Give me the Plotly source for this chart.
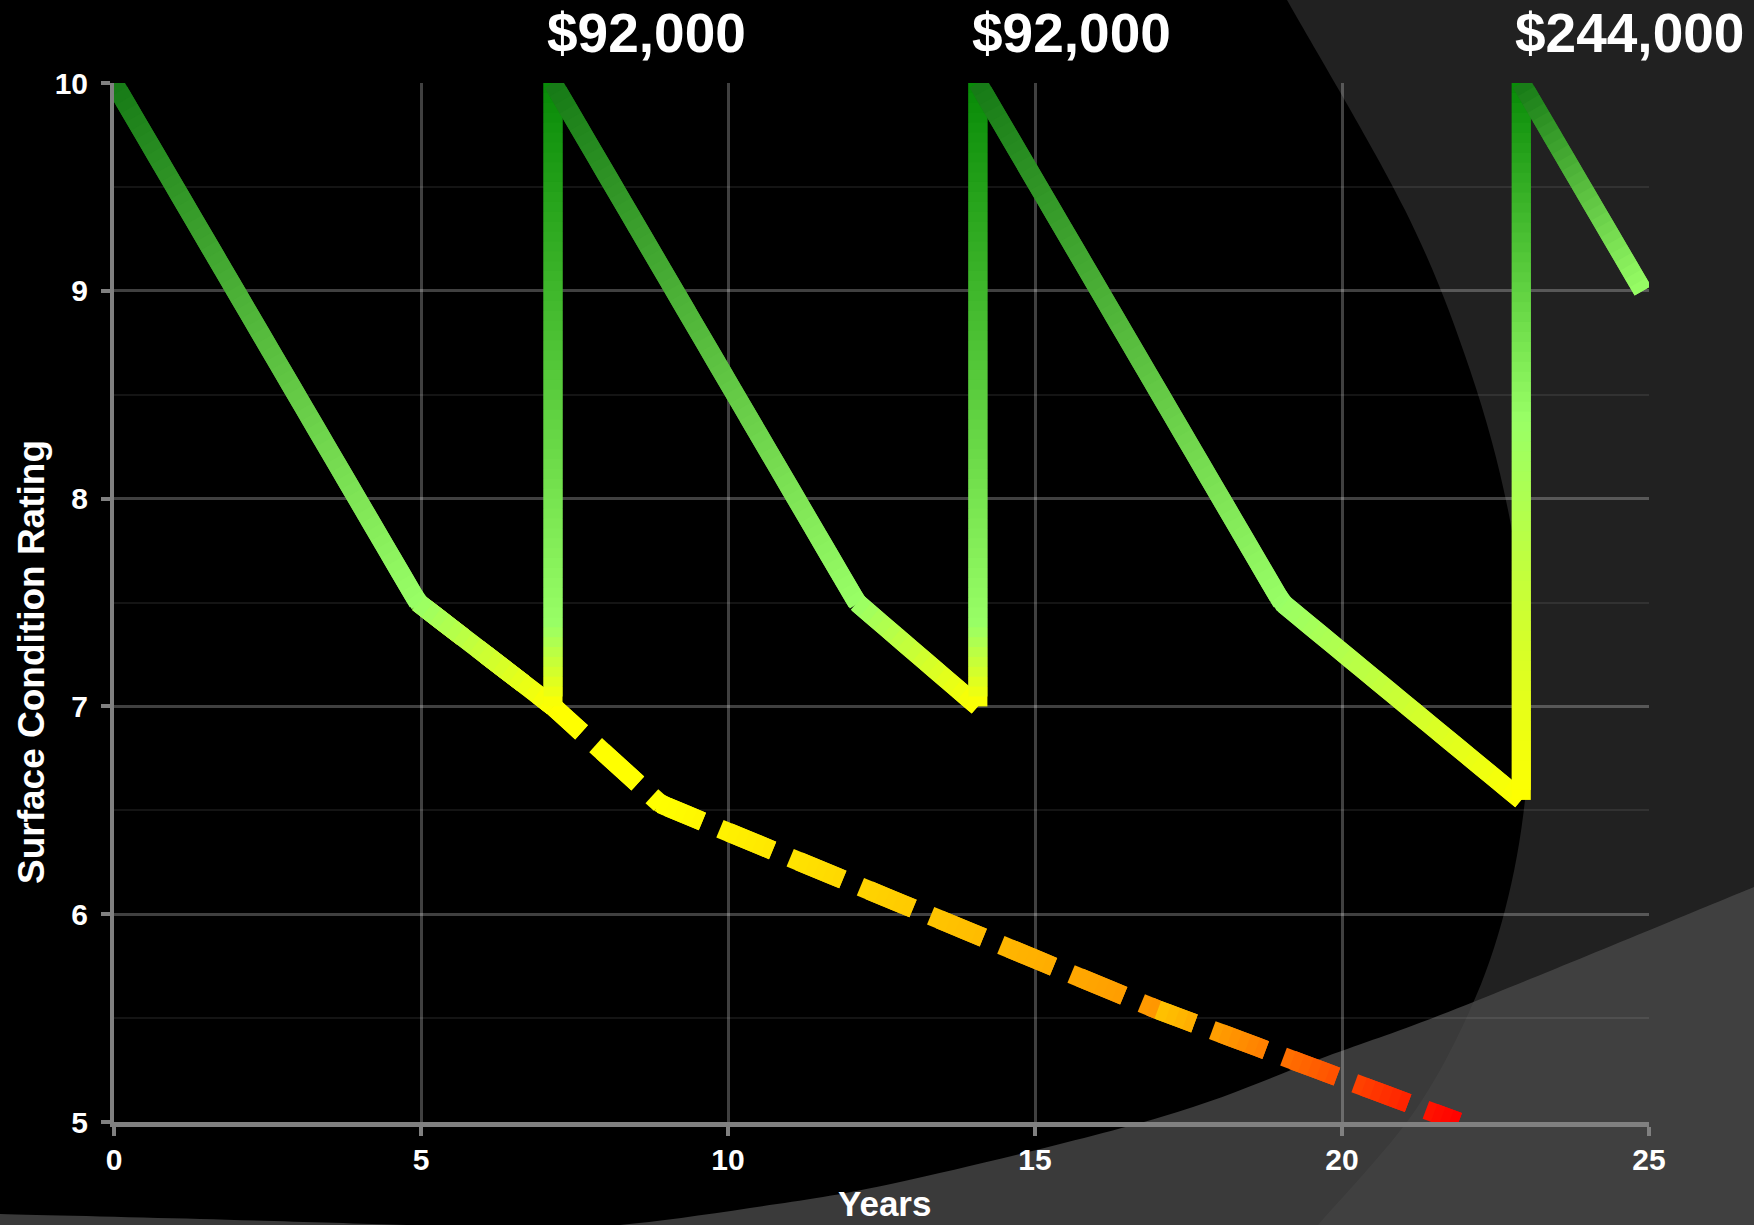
import math
import plotly.graph_objects as go

# Surface condition with periodic treatments (years, rating)
years_treated = [0, 4.95, 7.15, 7.15, 12.1, 14.07, 14.07, 19.02, 22.92, 22.92, 24.9]
rating_treated = [10, 7.5, 7.0, 10, 7.5, 7.0, 10, 7.5, 6.55, 10, 9.0]

# Condition when no treatment is applied after year 5
years_untreated = [4.95, 7.15, 8.9, 17.0, 21.9]
rating_untreated = [7.5, 7.0, 6.53, 5.54, 5.0]

# Treatments and their cost
treatment_years = [7.15, 14.07, 22.92]
treatment_costs = ["$92,000", "$92,000", "$244,000"]

x_ticks = [0, 5, 10, 15, 20, 25]
y_ticks = [5, 6, 7, 8, 9, 10]

# ---------------------------------------------------------------- layout
W, H = 1754, 1225
ML, MR, MT, MB = 114, 105, 83, 103
PW, PH = W - ML - MR, H - MT - MB
X_RANGE = [x_ticks[0], x_ticks[-1]]
Y_RANGE = [y_ticks[0], y_ticks[-1]]
SX = PW / (X_RANGE[1] - X_RANGE[0])   # pixels per year
SY = PH / (Y_RANGE[1] - Y_RANGE[0])   # pixels per rating point

LINE_W = 19
STEP = 10            # length of one colour step of a gradient stroke (px)
DASH, GAP = 57, 19   # dash pattern of the untreated curve (px)

FONT = "Liberation Sans, Arial, sans-serif"
AXIS_GREY = "#808080"

DARK = (22, 122, 22)
DEEP = (7, 138, 7)
LIGHT = (153, 255, 102)
YELLOW = (255, 255, 0)
GOLD = (255, 196, 0)
AMBER = (255, 150, 0)
RED = (255, 0, 0)

# colour ramp of every segment (position along the segment -> colour)
treated_ramps = [
    [(0, DARK), (1, LIGHT)],
    [(0, LIGHT), (1, YELLOW)],
    [(0, YELLOW), (0.13, LIGHT), (1, DEEP)],
    [(0, DARK), (1, LIGHT)],
    [(0, LIGHT), (1, YELLOW)],
    [(0, YELLOW), (0.13, LIGHT), (1, DEEP)],
    [(0, DARK), (1, LIGHT)],
    [(0, LIGHT), (1, YELLOW)],
    [(0, YELLOW), (0.53, LIGHT), (1, DEEP)],
    [(0, DARK), (1, LIGHT)],
]
untreated_ramps = [
    [(0, YELLOW), (1, YELLOW)],
    [(0, YELLOW), (1, YELLOW)],
    [(0, YELLOW), (1, AMBER)],
    [(0, GOLD), (1, RED)],
]


def mix(c0, c1, f):
    return tuple(round(a + (b - a) * f) for a, b in zip(c0, c1))


def ramp_color(stops, t):
    t = min(max(t, 0.0), 1.0)
    for (t0, c0), (t1, c1) in zip(stops, stops[1:]):
        if t <= t1:
            f = 0.0 if t1 == t0 else (t - t0) / (t1 - t0)
            return mix(c0, c1, f)
    return stops[-1][1]


def cumulative(xs, ys):
    cum = [0.0]
    for i in range(len(xs) - 1):
        cum.append(cum[-1] + math.hypot((xs[i + 1] - xs[i]) * SX,
                                        (ys[i + 1] - ys[i]) * SY))
    return cum


def locate(xs, ys, cum, s):
    i = 0
    while i < len(cum) - 2 and s > cum[i + 1]:
        i += 1
    seg_len = cum[i + 1] - cum[i]
    t = (s - cum[i]) / seg_len if seg_len else 0.0
    return xs[i] + (xs[i + 1] - xs[i]) * t, ys[i] + (ys[i + 1] - ys[i]) * t, i, t


def ramp_traces(xs, ys, cum, ramps, s0, s1):
    """Stroke the stretch [s0, s1] of a polyline with a colour gradient."""
    n = max(1, math.ceil((s1 - s0) / STEP))
    marks = [s0 + (s1 - s0) * k / n for k in range(n + 1)]
    marks += [c for c in cum[1:-1] if s0 < c < s1]
    marks = sorted(set(marks))
    pts = [locate(xs, ys, cum, s) for s in marks]
    out = []
    for j in range(len(marks) - 1):
        _, _, seg, t = locate(xs, ys, cum, (marks[j] + marks[j + 1]) / 2)
        r, g, b = ramp_color(ramps[seg], t)
        sel = pts[j:j + 3]   # overlap into the next step so joins stay closed
        out.append(go.Scatter(
            x=[p[0] for p in sel], y=[p[1] for p in sel], mode="lines",
            line=dict(color=f"rgb({r},{g},{b})", width=LINE_W),
            hoverinfo="skip", showlegend=False))
    return out


traces = []

# untreated curve: dashed gradient stroke, yellow to red
cum_u = cumulative(years_untreated, rating_untreated)
s = 0.0
while s < cum_u[-1]:
    traces += ramp_traces(years_untreated, rating_untreated, cum_u,
                          untreated_ramps, s, min(s + DASH, cum_u[-1]))
    s += DASH + GAP

# treated curve: vertical jumps are stroked separately from the decay runs
runs, cur = [], []
for i in range(len(years_treated) - 1):
    if years_treated[i] == years_treated[i + 1]:
        if cur:
            runs.append(cur)
            cur = []
        runs.append([i])
    else:
        cur.append(i)
if cur:
    runs.append(cur)

for run in runs:
    xs = years_treated[run[0]:run[-1] + 2]
    ys = rating_treated[run[0]:run[-1] + 2]
    cum = cumulative(xs, ys)
    traces += ramp_traces(xs, ys, cum, treated_ramps[run[0]:run[-1] + 1], 0.0, cum[-1])

fig = go.Figure(traces)


# ---------------------------------------------------------------- backdrop
def to_paper(px, py):
    return (px - ML) / PW, (H - MB - py) / PH


def smooth_path(curve, tail):
    p = [to_paper(*c) for c in curve]
    d = "M{:.5f},{:.5f}".format(*p[0])
    for i in range(len(p) - 1):
        p0 = p[i - 1] if i > 0 else p[i]
        p1, p2 = p[i], p[i + 1]
        p3 = p[i + 2] if i + 2 < len(p) else p[i + 1]
        c1 = (p1[0] + (p2[0] - p0[0]) / 6, p1[1] + (p2[1] - p0[1]) / 6)
        c2 = (p2[0] - (p3[0] - p1[0]) / 6, p2[1] - (p3[1] - p1[1]) / 6)
        d += " C{:.5f},{:.5f} {:.5f},{:.5f} {:.5f},{:.5f}".format(*c1, *c2, *p2)
    for t in tail:
        d += " L{:.5f},{:.5f}".format(*to_paper(*t))
    return d + " Z"


black_edge = [(1276, -20), (1287, 0), (1405, 210), (1470, 370), (1510, 520),
              (1530, 680), (1525, 800), (1505, 910), (1470, 1010), (1412, 1115),
              (1318, 1225), (1295, 1250)]
black_path = smooth_path(black_edge, [(-20, 1250), (-20, -20)])

lower_edge = [(-20, 1213), (0, 1214), (200, 1219), (440, 1226), (530, 1229),
              (620, 1225), (750, 1208), (900, 1182), (1161, 1117), (1325, 1057),
              (1466, 1005), (1754, 887), (1780, 876)]
lower_path = smooth_path(lower_edge, [(1780, 1250), (-20, 1250)])

shapes = [
    dict(type="path", xref="paper", yref="paper", path=black_path,
         fillcolor="#000000", line=dict(width=0), layer="below"),
    dict(type="path", xref="paper", yref="paper", path=lower_path,
         fillcolor="rgba(72,72,72,0.8)", line=dict(width=0), layer="below"),
]

# ---------------------------------------------------------------- labels
annotations = []
peak = max(rating_treated)
for yr, cost in zip(treatment_years, treatment_costs):
    annotations.append(dict(
        x=yr, y=peak, xref="x", yref="y", text=cost, showarrow=False,
        xanchor="left", yanchor="middle", xshift=-8, yshift=50,
        font=dict(family=FONT, size=55, color="white", weight="bold")))

annotations.append(dict(
    x=to_paper(884, 0)[0], y=to_paper(0, 1203)[1], xref="paper", yref="paper",
    text="Years", showarrow=False, xanchor="center", yanchor="middle",
    font=dict(family=FONT, size=35, color="white", weight="bold")))
annotations.append(dict(
    x=to_paper(31, 0)[0], y=to_paper(0, 662)[1], xref="paper", yref="paper",
    text="Surface Condition Rating", showarrow=False, textangle=-90,
    xanchor="center", yanchor="middle",
    font=dict(family=FONT, size=37, color="white", weight="bold")))

tick_font = dict(family=FONT, size=30, color="white", weight="bold")
grid_major = "rgba(255,255,255,0.25)"
grid_minor = "rgba(255,255,255,0.08)"

fig.update_layout(
    width=W, height=H, autosize=False,
    margin=dict(l=ML, r=MR, t=MT, b=MB, pad=0),
    paper_bgcolor="#212121", plot_bgcolor="rgba(0,0,0,0)",
    showlegend=False, shapes=shapes, annotations=annotations,
    xaxis=dict(
        range=X_RANGE, tickmode="array", tickvals=x_ticks,
        showgrid=True, gridcolor=grid_major, gridwidth=3, zeroline=False,
        showline=True, linecolor=AXIS_GREY, linewidth=5,
        ticks="outside", ticklen=9, tickwidth=4, tickcolor=AXIS_GREY,
        tickfont=tick_font, ticklabelstandoff=-2, fixedrange=True),
    yaxis=dict(
        range=Y_RANGE, tickmode="array", tickvals=y_ticks,
        showgrid=True, gridcolor=grid_major, gridwidth=3, zeroline=False,
        showline=True, linecolor=AXIS_GREY, linewidth=4,
        ticks="outside", ticklen=9, tickwidth=4, tickcolor=AXIS_GREY,
        tickfont=tick_font, ticklabelstandoff=7, fixedrange=True,
        minor=dict(tickmode="array",
                   tickvals=[(a + b) / 2 for a, b in zip(y_ticks, y_ticks[1:])],
                   showgrid=True, gridcolor=grid_minor, gridwidth=2, ticks="")),
)

fig.write_html("out.html", config={"displayModeBar": False, "responsive": False})
